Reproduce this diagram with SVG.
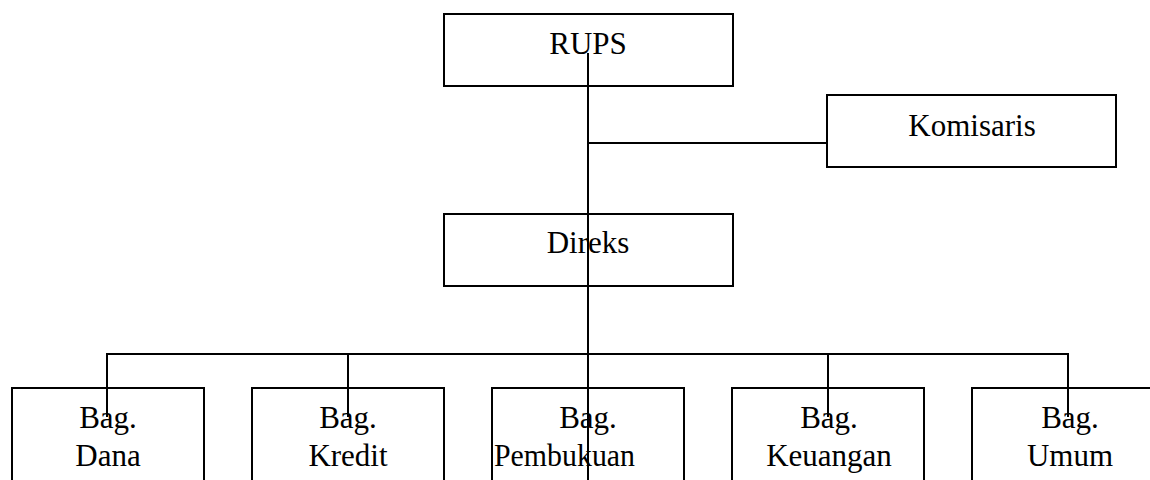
<svg xmlns="http://www.w3.org/2000/svg" width="1150" height="480" viewBox="0 0 1150 480">
<style>
.box{fill:#fff;stroke:#000;stroke-width:2}
.ln{stroke:#000;stroke-width:2;fill:none}
text{font-family:'Liberation Serif','Times New Roman',serif;font-size:31px;fill:#000;text-anchor:middle}
</style>
<rect width="1150" height="480" fill="#fff"/>
<g font-family="Liberation Serif, serif">
<g id="rups"><rect class="box" x="444" y="14" width="289" height="72"/><text x="588" y="54">RUPS</text></g>
<g id="komisaris"><rect class="box" x="827" y="95" width="289" height="72"/><text x="972" y="136">Komisaris</text></g>
<g id="direks"><rect class="box" x="444" y="214" width="289" height="72"/><text x="588" y="253">Direks</text></g>
<g id="dana"><rect class="box" x="12" y="388" width="192" height="100"/><text x="108" y="428">Bag.</text><text x="108" y="466">Dana</text></g>
<g id="kredit"><rect class="box" x="252" y="388" width="192" height="100"/><text x="348" y="428">Bag.</text><text x="348" y="466">Kredit</text></g>
<g id="pembukuan"><rect class="box" x="492" y="388" width="192" height="100"/><text x="588" y="428">Bag.</text><text x="494" y="466" style="text-anchor:start" textLength="141" lengthAdjust="spacingAndGlyphs">Pembukuan</text></g>
<g id="keuangan"><rect class="box" x="732" y="388" width="192" height="100"/><text x="829" y="428">Bag.</text><text x="829" y="466">Keuangan</text></g>
<g id="umum"><rect class="box" x="972" y="388" width="192" height="100"/><text x="1070" y="428">Bag.</text><text x="1070" y="466">Umum</text></g>
</g>
<g id="connectors">
<line class="ln" x1="588" y1="53" x2="588" y2="480"/>
<line class="ln" x1="588" y1="143" x2="827" y2="143"/>
<line class="ln" x1="107" y1="354" x2="1068" y2="354"/>
<line class="ln" x1="107" y1="353" x2="107" y2="417"/>
<line class="ln" x1="348" y1="353" x2="348" y2="417"/>
<line class="ln" x1="828" y1="353" x2="828" y2="417"/>
<line class="ln" x1="1068" y1="353" x2="1068" y2="417"/>
</g>
</svg>
